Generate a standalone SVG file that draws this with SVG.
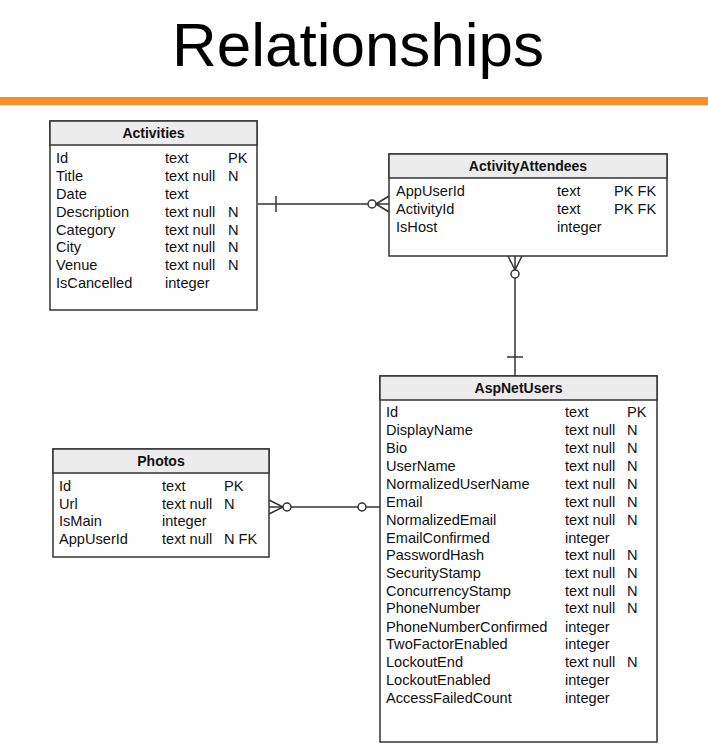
<svg xmlns="http://www.w3.org/2000/svg" width="708" height="750" viewBox="0 0 708 750">
<style>
.box{fill:#fff;stroke:#333;stroke-width:1.5}
.hdr{fill:#ececec;stroke:#333;stroke-width:1.5}
.t{font-family:"Liberation Sans",Arial,sans-serif;font-size:14.6px;fill:#111}
.h{font-family:"Liberation Sans",Arial,sans-serif;font-size:14px;font-weight:bold;fill:#111;text-anchor:middle}
.ln{fill:none;stroke:#333;stroke-width:1.5}
.c{fill:#fff;stroke:#333;stroke-width:1.5}
</style>
<rect width="708" height="750" fill="#fff"/>
<text x="358" y="66" font-family="'Liberation Sans',Arial,sans-serif" font-size="62" text-anchor="middle" fill="#000">Relationships</text>
<rect x="0" y="97" width="708" height="8" fill="#f7902a"/>

<g id="connectors">
  <!-- Activities to ActivityAttendees -->
  <line class="ln" x1="258" y1="204" x2="368" y2="204"/>
  <line class="ln" x1="276" y1="196" x2="276" y2="212"/>
  <line class="ln" x1="376" y1="204" x2="389" y2="204"/>
  <line class="ln" x1="376" y1="204" x2="389" y2="196"/>
  <line class="ln" x1="376" y1="204" x2="389" y2="212"/>
  <circle class="c" cx="372" cy="204" r="4"/>
  <!-- ActivityAttendees to AspNetUsers -->
  <line class="ln" x1="515" y1="278" x2="515" y2="376"/>
  <line class="ln" x1="507" y1="357" x2="523" y2="357"/>
  <line class="ln" x1="515" y1="256" x2="515" y2="270"/>
  <line class="ln" x1="515" y1="270" x2="508" y2="256"/>
  <line class="ln" x1="515" y1="270" x2="522" y2="256"/>
  <circle class="c" cx="515" cy="274" r="4"/>
  <!-- Photos to AspNetUsers -->
  <line class="ln" x1="269" y1="507" x2="283" y2="507"/>
  <line class="ln" x1="283" y1="507" x2="269" y2="500"/>
  <line class="ln" x1="283" y1="507" x2="269" y2="514"/>
  <line class="ln" x1="291" y1="507" x2="358" y2="507"/>
  <line class="ln" x1="366" y1="507" x2="380" y2="507"/>
  <circle class="c" cx="287" cy="507" r="4"/>
  <circle class="c" cx="362" cy="507" r="4"/>
</g>

<g id="Activities">
  <rect class="box" x="50" y="121" width="207" height="189"/>
  <rect class="hdr" x="50" y="121" width="207" height="24"/>
  <text class="h" x="153.5" y="138">Activities</text>
  <text class="t" x="56" y="163">Id</text><text class="t" x="165" y="163">text</text><text class="t" x="228" y="163">PK</text>
  <text class="t" x="56" y="181">Title</text><text class="t" x="165" y="181">text null</text><text class="t" x="228" y="181">N</text>
  <text class="t" x="56" y="199">Date</text><text class="t" x="165" y="199">text</text>
  <text class="t" x="56" y="217">Description</text><text class="t" x="165" y="217">text null</text><text class="t" x="228" y="217">N</text>
  <text class="t" x="56" y="235">Category</text><text class="t" x="165" y="235">text null</text><text class="t" x="228" y="235">N</text>
  <text class="t" x="56" y="252">City</text><text class="t" x="165" y="252">text null</text><text class="t" x="228" y="252">N</text>
  <text class="t" x="56" y="270">Venue</text><text class="t" x="165" y="270">text null</text><text class="t" x="228" y="270">N</text>
  <text class="t" x="56" y="288">IsCancelled</text><text class="t" x="165" y="288">integer</text>
</g>

<g id="ActivityAttendees">
  <rect class="box" x="389" y="154" width="278" height="102"/>
  <rect class="hdr" x="389" y="154" width="278" height="24"/>
  <text class="h" x="528" y="171">ActivityAttendees</text>
  <text class="t" x="396" y="196">AppUserId</text><text class="t" x="557" y="196">text</text><text class="t" x="614" y="196">PK FK</text>
  <text class="t" x="396" y="214">ActivityId</text><text class="t" x="557" y="214">text</text><text class="t" x="614" y="214">PK FK</text>
  <text class="t" x="396" y="232">IsHost</text><text class="t" x="557" y="232">integer</text>
</g>

<g id="AspNetUsers">
  <rect class="box" x="380" y="376" width="277" height="366"/>
  <rect class="hdr" x="380" y="376" width="277" height="24"/>
  <text class="h" x="518.5" y="393">AspNetUsers</text>
  <text class="t" x="386" y="417">Id</text><text class="t" x="565" y="417">text</text><text class="t" x="627" y="417">PK</text>
  <text class="t" x="386" y="435">DisplayName</text><text class="t" x="565" y="435">text null</text><text class="t" x="627" y="435">N</text>
  <text class="t" x="386" y="453">Bio</text><text class="t" x="565" y="453">text null</text><text class="t" x="627" y="453">N</text>
  <text class="t" x="386" y="471">UserName</text><text class="t" x="565" y="471">text null</text><text class="t" x="627" y="471">N</text>
  <text class="t" x="386" y="489">NormalizedUserName</text><text class="t" x="565" y="489">text null</text><text class="t" x="627" y="489">N</text>
  <text class="t" x="386" y="507">Email</text><text class="t" x="565" y="507">text null</text><text class="t" x="627" y="507">N</text>
  <text class="t" x="386" y="525">NormalizedEmail</text><text class="t" x="565" y="525">text null</text><text class="t" x="627" y="525">N</text>
  <text class="t" x="386" y="543">EmailConfirmed</text><text class="t" x="565" y="543">integer</text>
  <text class="t" x="386" y="560">PasswordHash</text><text class="t" x="565" y="560">text null</text><text class="t" x="627" y="560">N</text>
  <text class="t" x="386" y="578">SecurityStamp</text><text class="t" x="565" y="578">text null</text><text class="t" x="627" y="578">N</text>
  <text class="t" x="386" y="596">ConcurrencyStamp</text><text class="t" x="565" y="596">text null</text><text class="t" x="627" y="596">N</text>
  <text class="t" x="386" y="613">PhoneNumber</text><text class="t" x="565" y="613">text null</text><text class="t" x="627" y="613">N</text>
  <text class="t" x="386" y="632">PhoneNumberConfirmed</text><text class="t" x="565" y="632">integer</text>
  <text class="t" x="386" y="649">TwoFactorEnabled</text><text class="t" x="565" y="649">integer</text>
  <text class="t" x="386" y="667">LockoutEnd</text><text class="t" x="565" y="667">text null</text><text class="t" x="627" y="667">N</text>
  <text class="t" x="386" y="685">LockoutEnabled</text><text class="t" x="565" y="685">integer</text>
  <text class="t" x="386" y="703">AccessFailedCount</text><text class="t" x="565" y="703">integer</text>
</g>

<g id="Photos">
  <rect class="box" x="53" y="449" width="216" height="108"/>
  <rect class="hdr" x="53" y="449" width="216" height="24"/>
  <text class="h" x="161" y="466">Photos</text>
  <text class="t" x="59" y="491">Id</text><text class="t" x="162" y="491">text</text><text class="t" x="224" y="491">PK</text>
  <text class="t" x="59" y="509">Url</text><text class="t" x="162" y="509">text null</text><text class="t" x="224" y="509">N</text>
  <text class="t" x="59" y="526">IsMain</text><text class="t" x="162" y="526">integer</text>
  <text class="t" x="59" y="544">AppUserId</text><text class="t" x="162" y="544">text null</text><text class="t" x="224" y="544">N FK</text>
</g>
</svg>
